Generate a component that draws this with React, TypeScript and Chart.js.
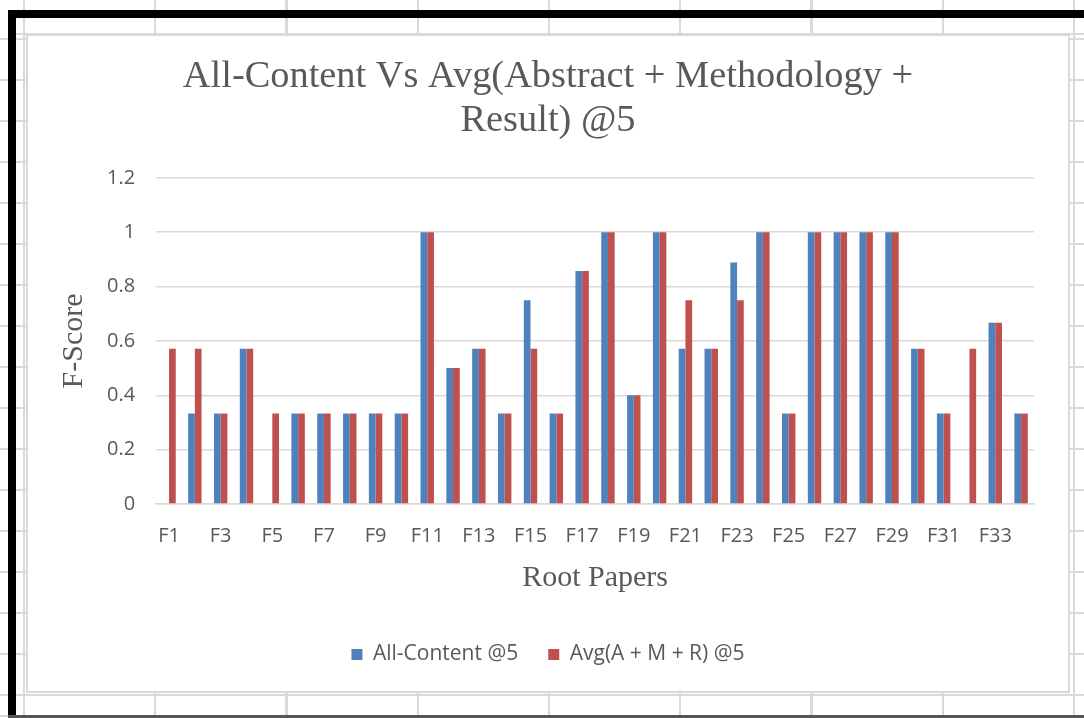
import React, { useEffect, useRef } from "react";
import { Chart, registerables } from "chart.js";

Chart.register(...registerables);

const categories = [
  "F1", "F2", "F3", "F4", "F5", "F6", "F7", "F8", "F9", "F10",
  "F11", "F12", "F13", "F14", "F15", "F16", "F17", "F18", "F19", "F20",
  "F21", "F22", "F23", "F24", "F25", "F26", "F27", "F28", "F29", "F30",
  "F31", "F32", "F33", "F34",
];

const allContent = [
  0, 0.333, 0.333, 0.571, 0, 0.333, 0.333, 0.333, 0.333, 0.333,
  1, 0.5, 0.571, 0.333, 0.75, 0.333, 0.857, 1, 0.4, 1,
  0.571, 0.571, 0.889, 1, 0.333, 1, 1, 1, 1, 0.571,
  0.333, 0, 0.667, 0.333,
];

const avgAMR = [
  0.571, 0.571, 0.333, 0.571, 0.333, 0.333, 0.333, 0.333, 0.333, 0.333,
  1, 0.5, 0.571, 0.333, 0.571, 0.333, 0.857, 1, 0.4, 1,
  0.75, 0.571, 0.75, 1, 0.333, 1, 1, 1, 1, 0.571,
  0.333, 0.571, 0.667, 0.333,
];

const seriesNames = ["All-Content @5", "Avg(A + M + R) @5"];
const titleLines = ["All-Content Vs Avg(Abstract + Methodology +", "Result) @5"];
const yTickValues = [0, 0.2, 0.4, 0.6, 0.8, 1, 1.2];

const TEXT = "#595959";
const GRID = "#d9d9d9";
const SANS = "'Open Sans', 'Liberation Sans', sans-serif";
const SERIF = "'Liberation Serif', 'DejaVu Serif', serif";

export default function App() {
  const ref = useRef<HTMLCanvasElement | null>(null);

  useEffect(() => {
    if (!ref.current) return;
    const chart = new Chart(ref.current, {
      type: "bar",
      data: {
        labels: categories,
        datasets: [
          {
            label: seriesNames[0],
            data: allContent,
            backgroundColor: "#4f81bd",
            borderWidth: 0,
            categoryPercentage: 0.52,
            barPercentage: 1,
          },
          {
            label: seriesNames[1],
            data: avgAMR,
            backgroundColor: "#c0504d",
            borderWidth: 0,
            categoryPercentage: 0.52,
            barPercentage: 1,
          },
        ],
      },
      options: {
        animation: false,
        responsive: false,
        maintainAspectRatio: false,
        layout: { padding: { left: 34, right: 34, top: 8, bottom: 16 } },
        plugins: {
          tooltip: { enabled: false },
          title: {
            display: true,
            text: titleLines,
            color: TEXT,
            font: { family: SERIF, size: 38.4, weight: "normal", lineHeight: 1.17 },
            padding: { top: 10, bottom: 34 },
          },
          legend: {
            position: "bottom",
            labels: {
              boxWidth: 11,
              boxHeight: 11,
              color: TEXT,
              font: { family: SANS, size: 21 },
              padding: 30,
            },
          },
        },
        scales: {
          x: {
            grid: { display: false },
            border: { color: GRID, width: 1.5 },
            ticks: {
              autoSkip: false,
              maxRotation: 0,
              minRotation: 0,
              color: TEXT,
              font: { family: SANS, size: 20 },
              padding: 12,
              callback: (_v: any, i: number) => (i % 2 === 0 ? categories[i] : ""),
            },
            title: {
              display: true,
              text: "Root Papers",
              color: TEXT,
              font: { family: SERIF, size: 30 },
              padding: { top: 0, bottom: 18 },
            },
          },
          y: {
            min: 0,
            max: 1.2,
            afterBuildTicks: (axis: any) => {
              axis.ticks = yTickValues.map((v) => ({ value: v }));
            },
            grid: { color: GRID, lineWidth: 1.5, drawTicks: false },
            border: { display: false },
            ticks: {
              color: TEXT,
              font: { family: SANS, size: 20 },
              padding: 21,
              callback: (v: any) => String(Number(Number(v).toFixed(1))),
            },
            title: {
              display: true,
              text: "F-Score",
              color: TEXT,
              font: { family: SERIF, size: 30, lineHeight: 0.8 },
              padding: { top: 0, bottom: 0 },
            },
          },
        },
      },
    });
    return () => chart.destroy();
  }, []);

  const colStep = 131.25;
  const rowStep = 41;

  return (
    <div
      style={{
        position: "fixed",
        left: 0,
        top: 0,
        width: 1084,
        height: 718,
        background: "#ffffff",
        overflow: "hidden",
      }}
    >
      <div
        style={{
          position: "absolute",
          left: 0,
          top: 0,
          width: 1084,
          height: 718,
          backgroundImage: `repeating-linear-gradient(to right, ${GRID} 0px, ${GRID} 2px, transparent 2px, transparent ${colStep}px), repeating-linear-gradient(to bottom, ${GRID} 0px, ${GRID} 2px, transparent 2px, transparent ${rowStep}px)`,
          backgroundPosition: `23px 0px, 0px ${38 - rowStep}px`,
        }}
      />
      <div style={{ position: "absolute", left: 16, top: 33, width: 1068, height: 2, background: GRID }} />
      <div style={{ position: "absolute", left: 8, top: 10, width: 1076, height: 8, background: "#000" }} />
      <div style={{ position: "absolute", left: 8, top: 10, width: 8, height: 708, background: "#000" }} />
      <div style={{ position: "absolute", left: 8, top: 715, width: 1076, height: 3, background: "#555" }} />
      <div
        style={{
          position: "absolute",
          left: 26,
          top: 34,
          width: 1040,
          height: 655,
          border: `2px solid ${GRID}`,
          background: "#ffffff",
        }}
      >
        <canvas ref={ref} width={1040} height={655} style={{ display: "block", width: 1040, height: 655 }} />
      </div>
    </div>
  );
}
